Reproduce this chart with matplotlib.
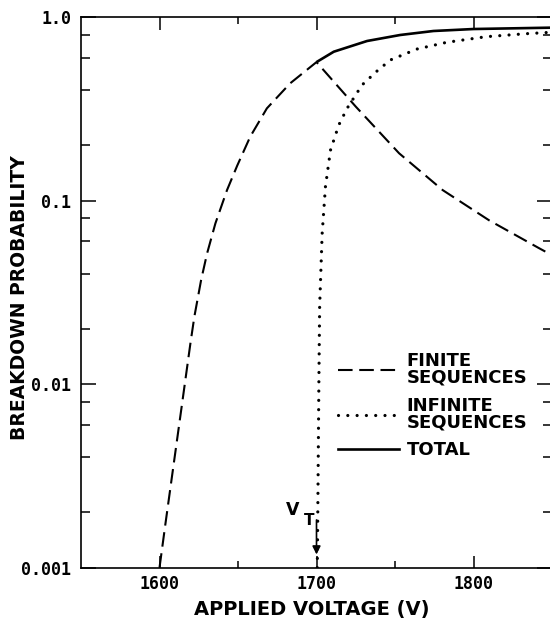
import matplotlib
matplotlib.use("Agg")
import matplotlib.pyplot as plt
from matplotlib.lines import Line2D
from matplotlib.ticker import FixedLocator, NullFormatter

# ---- data ----
finite_v = [1600, 1603.8, 1609.1, 1614.4, 1619.7, 1622.2, 1626.5, 1630.3, 1635.6,
            1643, 1649.5, 1657.8, 1668.4, 1683.2, 1700, 1725, 1752.6, 1780.4,
            1810, 1841.8, 1850]
finite_p = [0.001, 0.00174, 0.0037, 0.00785, 0.0167, 0.0233, 0.0369, 0.0515, 0.0751,
            0.114, 0.155, 0.223, 0.318, 0.435, 0.568, 0.325, 0.181, 0.114,
            0.078, 0.055, 0.0504]

infinite_v = [1700.5, 1701, 1701.5, 1702, 1703.6, 1705.7, 1708.9, 1714.2, 1719.5,
              1729, 1738, 1747, 1764, 1783, 1808, 1833.5, 1850]
infinite_p = [0.001, 0.003, 0.01, 0.0264, 0.066, 0.119, 0.188, 0.258, 0.318,
              0.426, 0.503, 0.583, 0.669, 0.728, 0.781, 0.811, 0.826]

total_v = [1700, 1711, 1732.2, 1753.3, 1774.5, 1800, 1850]
total_p = [0.568, 0.647, 0.740, 0.798, 0.839, 0.860, 0.875]

x_major = [1600, 1700, 1800]
x_minor = [1650, 1750]
y_major = [0.001, 0.01, 0.1, 1.0]
y_major_labels = ["0.001", "0.01", "0.1", "1.0"]
y_minor = [m * d for d in (0.001, 0.01, 0.1) for m in (2, 4, 6, 8)]

v_threshold = 1700
legend_labels = ["FINITE\nSEQUENCES", "INFINITE\nSEQUENCES", "TOTAL"]

# ---- figure ----
fig = plt.figure(figsize=(5.5, 6.2), dpi=100)
W, H = 550, 620
left, right, top, bottom = 81, 552, 17, 567.7
ax = fig.add_axes([left / W, 1 - bottom / H, (right - left) / W, (bottom - top) / H])

ax.set_xscale("linear")
ax.set_yscale("log")
ax.set_xlim(1550, 1850)
ax.set_ylim(0.001, 1.0)

lw = 1.5
dash = (7, 3.2)
dot = (0.01, 2.9)

ax.plot(finite_v, finite_p, color="black", lw=lw, dashes=dash, solid_capstyle="butt")
ax.plot(infinite_v, infinite_p, color="black", lw=2.3, dashes=dot,
        dash_capstyle="round")
ax.plot(total_v, total_p, color="black", lw=1.9, solid_capstyle="butt")

# threshold arrow and label
ax.annotate("", xy=(v_threshold, 0.00118), xytext=(v_threshold, 0.00182),
            arrowprops=dict(arrowstyle="-|>", color="black", lw=1.2,
                            mutation_scale=12, shrinkA=0, shrinkB=0))
ax.text(1685, 0.00205, "V", fontsize=12.5, ha="center", va="center",
        family="DejaVu Sans", fontweight="bold")
ax.text(1695.6, 0.00180, "T", fontsize=11, ha="center", va="center",
        family="DejaVu Sans", fontweight="bold")

# ticks
ax.xaxis.set_major_locator(FixedLocator(x_major))
ax.xaxis.set_minor_locator(FixedLocator(x_minor))
ax.yaxis.set_major_locator(FixedLocator(y_major))
ax.yaxis.set_minor_locator(FixedLocator(y_minor))
ax.set_yticklabels(y_major_labels)
ax.yaxis.set_minor_formatter(NullFormatter())

ax.tick_params(axis="both", which="both", direction="in", top=True, right=True,
               color="black")
ax.tick_params(axis="x", which="major", length=9, width=1.1, pad=5)
ax.tick_params(axis="x", which="minor", length=5, width=1.1)
ax.tick_params(axis="y", which="major", length=11, width=1.1, pad=7)
ax.tick_params(axis="y", which="minor", length=6.5, width=1.1)

for lab in ax.get_xticklabels() + ax.get_yticklabels():
    lab.set_family("DejaVu Sans Mono")
    lab.set_fontweight("bold")
    lab.set_fontsize(12)

for s in ax.spines.values():
    s.set_linewidth(1.2)
ax.spines["right"].set_visible(False)

fig.text(312 / W, 1 - 609 / H, "APPLIED VOLTAGE (V)", fontsize=14,
         ha="center", va="center", family="DejaVu Sans", fontweight="bold")
fig.text(20 / W, 1 - 298 / H, "BREAKDOWN PROBABILITY", fontsize=13.5,
         ha="center", va="center", rotation=90, family="DejaVu Sans",
         fontweight="bold")

# legend
handles = [
    Line2D([], [], color="black", lw=lw, dashes=dash),
    Line2D([], [], color="black", lw=2.3, dashes=dot, dash_capstyle="round"),
    Line2D([], [], color="black", lw=1.9),
]
leg = ax.legend(handles, legend_labels, loc="upper left",
                bbox_to_anchor=((338 - left) / (right - left), 1 - (352 - top) / (bottom - top)),
                frameon=False, prop=dict(family="DejaVu Sans", weight="bold", size=13),
                handlelength=3.4, handletextpad=0.4,
                borderpad=0, borderaxespad=0, labelspacing=0.55)
for t in leg.get_texts():
    t.set_linespacing(0.9)

fig.savefig("out.png", dpi=100)
